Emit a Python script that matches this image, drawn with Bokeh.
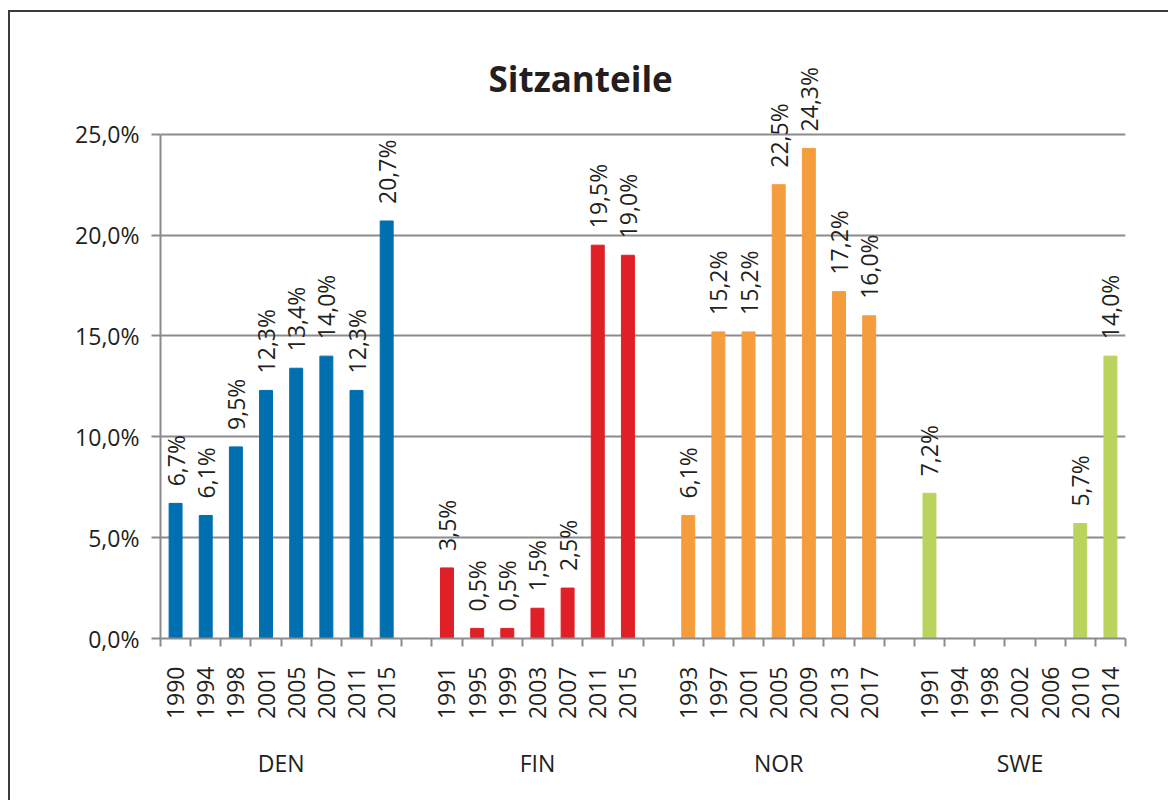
import math
from bokeh.plotting import figure
from bokeh.models import ColumnDataSource, FixedTicker, LinearAxis, Range1d, LabelSet, Label
from bokeh.core.properties import value
from bokeh.embed import file_html
from bokeh.resources import INLINE

# ---------------- data ----------------
title = "Sitzanteile"
countries = ["DEN", "FIN", "NOR", "SWE"]
colors = ["#006fb0", "#e01f26", "#f59d3d", "#bad35c"]

den_years = ["1990", "1994", "1998", "2001", "2005", "2007", "2011", "2015"]
den_values = [6.7, 6.1, 9.5, 12.3, 13.4, 14.0, 12.3, 20.7]

fin_years = ["1991", "1995", "1999", "2003", "2007", "2011", "2015"]
fin_values = [3.5, 0.5, 0.5, 1.5, 2.5, 19.5, 19.0]

nor_years = ["1993", "1997", "2001", "2005", "2009", "2013", "2017"]
nor_values = [6.1, 15.2, 15.2, 22.5, 24.3, 17.2, 16.0]

swe_years = ["1991", "1994", "1998", "2002", "2006", "2010", "2014"]
swe_values = [7.2, None, None, None, None, 5.7, 14.0]

y_ticks = [0, 5, 10, 15, 20, 25]
y_tick_labels = ["0,0%", "5,0%", "10,0%", "15,0%", "20,0%", "25,0%"]

groups_years = [den_years, fin_years, nor_years, swe_years]
groups_values = [den_values, fin_values, nor_values, swe_values]

# ---------------- build positions (one empty slot between countries) ----------------
xs, tops, cols, labels = [], [], [], []
tick_pos, tick_lab = [], []
group_centers = []
pos = 0
for gi, (yrs, vals) in enumerate(zip(groups_years, groups_values)):
    start = pos
    for yr, v in zip(yrs, vals):
        tick_pos.append(pos)
        tick_lab.append(yr)
        if v is not None:
            xs.append(pos)
            tops.append(v)
            cols.append(colors[gi])
            labels.append(f"{v:.1f}".replace(".", ",") + "%")
        pos += 1
    group_centers.append((start + pos - 1) / 2)
    if gi < len(groups_years) - 1:
        pos += 1  # gap slot
n_slots = pos
boundaries = [i - 0.5 for i in range(n_slots + 1)]

src = ColumnDataSource(dict(x=xs, top=tops, color=cols, label=labels))

FONT = "Open Sans"
TXT = "#231f20"
GRAY = "#8b8b8e"

p = figure(
    width=1160, height=790,
    x_range=Range1d(-0.5, n_slots - 0.5),
    y_range=Range1d(0, 29.5),
    output_backend="svg", toolbar_location=None,
    min_border_left=150, min_border_right=45,
    min_border_top=31, min_border_bottom=164,
    x_axis_type=None,
)
p.margin = (10, 0, 0, 8)
p.styles = {"border-left": "2px solid #3a3a3a", "border-top": "2px solid #3a3a3a"}
p.outline_line_color = None
p.background_fill_color = "white"
p.border_fill_color = "white"

p.add_layout(Label(x=328, y=560, x_units="screen", y_units="screen", text=title,
                   text_font=FONT, text_font_size="35px", text_font_style="bold",
                   text_color=TXT, text_align="left", text_baseline="alphabetic"))

p.vbar(x="x", top="top", width=0.43, color="color", source=src)
bar_labels = LabelSet(x="x", y="top", text="label", source=src, angle=90, angle_units="deg",
                      text_align="left", text_baseline="middle", y_offset=17,
                      text_font=value(FONT), text_font_size=value("23px"), text_color=TXT)
p.add_layout(bar_labels)

# y axis
ya = p.yaxis[0]
ya.ticker = FixedTicker(ticks=y_ticks)
ya.bounds = (0, 25)
ya.major_label_overrides = dict(zip(y_ticks, y_tick_labels))
ya.axis_line_color = GRAY
ya.axis_line_width = 2
ya.major_tick_line_color = GRAY
ya.major_tick_line_width = 2
ya.major_tick_out = 9
ya.major_tick_in = 0
ya.minor_tick_line_color = None
ya.major_label_standoff = 12
ya.major_label_text_font = FONT
ya.major_label_text_font_size = "23px"
ya.major_label_text_color = TXT

p.ygrid.grid_line_color = GRAY
p.ygrid.grid_line_width = 2
p.xgrid.grid_line_color = None

# x axis: years
xa = LinearAxis(ticker=FixedTicker(ticks=tick_pos, minor_ticks=boundaries))
xa.major_label_overrides = dict(zip(tick_pos, tick_lab))
xa.major_label_orientation = math.pi / 2
xa.axis_line_color = GRAY
xa.axis_line_width = 2
xa.major_tick_line_color = None
xa.major_tick_out = 0
xa.major_tick_in = 0
xa.minor_tick_line_color = GRAY
xa.minor_tick_line_width = 2
xa.minor_tick_out = 8
xa.minor_tick_in = 0
xa.major_label_standoff = 20
xa.major_label_text_font = FONT
xa.major_label_text_font_size = "23px"
xa.major_label_text_color = TXT
p.add_layout(xa, "below")

# x axis: countries
ga = LinearAxis(ticker=FixedTicker(ticks=group_centers, minor_ticks=[]))
ga.major_label_overrides = dict(zip(group_centers, countries))
ga.axis_line_color = None
ga.major_tick_line_color = None
ga.minor_tick_line_color = None
ga.major_tick_out = 0
ga.major_tick_in = 0
ga.major_label_standoff = 24
ga.major_label_text_font = FONT
ga.major_label_text_font_size = "23px"
ga.major_label_text_color = TXT
p.add_layout(ga, "below")

open("out.html", "w").write(file_html(p, INLINE))
